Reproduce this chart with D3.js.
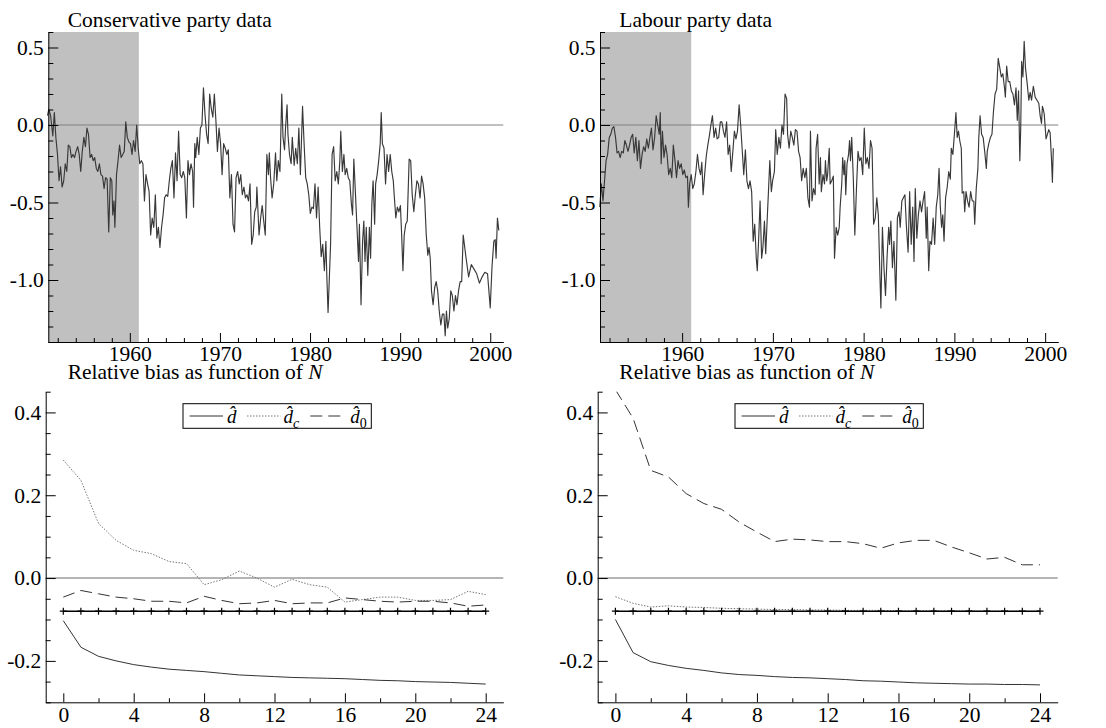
<!DOCTYPE html>
<html>
<head>
<meta charset="utf-8">
<script src="https://cdn.jsdelivr.net/npm/d3@7"></script>
<style>
  body { margin: 0; background: #fff; }
  svg { display: block; }
  svg text { font-family: "Liberation Serif", "DejaVu Serif", "Noto Serif", Tinos, serif; }
</style>
</head>
<body>
<svg id="chart" width="1106" height="728"></svg>
<script>
// ---- data ----
const conservative = [
  [1950.86,0.06],[1951.00,0.10],[1951.21,0.06],[1951.45,-0.07],[1951.62,0.08],[1951.79,-0.08],[1951.97,-0.19],[1952.14,-0.36],[1952.31,-0.27],[1952.48,-0.40],[1952.66,-0.36],[1952.83,-0.25],[1953.00,-0.30],[1953.17,-0.13],[1953.34,-0.14],[1953.52,-0.21],[1953.69,-0.19],[1953.86,-0.21],[1954.03,-0.17],[1954.21,-0.14],[1954.38,-0.19],[1954.55,-0.30],[1954.72,-0.17],[1954.90,-0.08],[1955.07,-0.14],[1955.24,-0.02],[1955.41,-0.06],[1955.59,-0.21],[1955.76,-0.19],[1955.93,-0.23],[1956.10,-0.21],[1956.28,-0.28],[1956.45,-0.30],[1956.62,-0.25],[1956.79,-0.32],[1956.97,-0.33],[1957.14,-0.41],[1957.31,-0.34],[1957.48,-0.35],[1957.66,-0.69],[1957.83,-0.34],[1958.00,-0.36],[1958.10,-0.58],[1958.24,-0.49],[1958.34,-0.66],[1958.52,-0.32],[1958.69,-0.23],[1958.86,-0.13],[1959.03,-0.21],[1959.21,-0.19],[1959.38,-0.17],[1959.55,0.02],[1959.72,-0.08],[1959.90,-0.11],
  [1960.07,-0.12],[1960.24,-0.19],[1960.41,-0.10],[1960.59,-0.17],[1960.76,0.00],[1960.93,-0.15],[1961.10,-0.25],[1961.28,-0.23],[1961.45,-0.25],[1961.62,-0.49],[1961.79,-0.32],[1961.97,-0.38],[1962.14,-0.43],[1962.31,-0.71],[1962.48,-0.60],[1962.66,-0.66],[1962.83,-0.45],[1963.00,-0.73],[1963.17,-0.66],[1963.34,-0.79],[1963.52,-0.66],[1963.69,-0.58],[1963.86,-0.47],[1964.03,-0.45],[1964.21,-0.46],[1964.38,-0.36],[1964.55,-0.28],[1964.72,-0.23],[1964.90,-0.47],[1965.07,-0.18],[1965.24,-0.36],[1965.41,-0.04],[1965.59,-0.32],[1965.76,-0.34],[1965.93,-0.30],[1966.10,-0.34],[1966.28,-0.60],[1966.45,-0.23],[1966.62,-0.32],[1966.79,-0.25],[1966.97,-0.30],[1967.07,-0.53],[1967.21,-0.12],[1967.31,-0.21],[1967.48,-0.08],[1967.66,-0.19],[1967.83,-0.02],[1968.00,0.00],[1968.17,0.24],[1968.34,0.07],[1968.52,-0.06],[1968.69,-0.12],[1968.86,0.20],[1969.03,0.11],[1969.21,0.05],[1969.38,0.20],[1969.55,0.03],[1969.72,-0.17],[1969.90,-0.02],
  [1970.07,-0.12],[1970.24,-0.32],[1970.41,-0.12],[1970.59,-0.15],[1970.76,-0.19],[1970.93,-0.16],[1971.10,-0.47],[1971.28,-0.32],[1971.45,-0.64],[1971.62,-0.69],[1971.79,-0.34],[1971.97,-0.30],[1972.14,-0.38],[1972.31,-0.32],[1972.48,-0.45],[1972.66,-0.40],[1972.83,-0.47],[1973.00,-0.45],[1973.17,-0.49],[1973.34,-0.38],[1973.52,-0.77],[1973.69,-0.71],[1973.86,-0.56],[1974.03,-0.53],[1974.10,-0.40],[1974.34,-0.71],[1974.52,-0.60],[1974.69,-0.52],[1974.86,-0.62],[1975.03,-0.71],[1975.21,-0.19],[1975.38,-0.32],[1975.48,-0.18],[1975.62,-0.34],[1975.79,-0.47],[1975.97,-0.38],[1976.17,-0.18],[1976.31,-0.36],[1976.48,-0.23],[1976.66,-0.30],[1976.86,0.20],[1977.00,-0.08],[1977.17,-0.16],[1977.28,-0.02],[1977.45,0.13],[1977.55,-0.06],[1977.72,-0.19],[1977.90,-0.25],[1978.03,-0.08],[1978.24,-0.26],[1978.41,-0.15],[1978.59,-0.25],[1978.76,-0.02],[1978.93,-0.32],[1979.17,0.12],[1979.34,-0.12],[1979.52,-0.34],[1979.69,-0.38],[1979.86,-0.45],
  [1980.03,-0.57],[1980.21,-0.53],[1980.38,-0.54],[1980.55,-0.38],[1980.72,-0.60],[1980.90,-0.40],[1981.07,-0.66],[1981.24,-0.85],[1981.41,-0.77],[1981.59,-0.94],[1981.76,-0.75],[1981.86,-0.97],[1982.00,-1.21],[1982.14,-0.99],[1982.28,-0.77],[1982.45,-0.19],[1982.62,-0.14],[1982.79,-0.36],[1982.97,-0.30],[1983.14,-0.38],[1983.31,-0.23],[1983.41,-0.04],[1983.59,-0.30],[1983.76,-0.19],[1983.90,-0.32],[1984.07,-0.28],[1984.24,-0.34],[1984.41,-0.36],[1984.59,-0.51],[1984.72,-0.58],[1984.86,-0.22],[1985.03,-0.43],[1985.21,-0.66],[1985.38,-0.88],[1985.48,-0.64],[1985.66,-1.16],[1985.83,-0.75],[1985.97,-0.62],[1986.10,-0.88],[1986.24,-0.66],[1986.41,-0.97],[1986.59,-0.66],[1986.72,-0.86],[1986.86,-0.51],[1987.00,-0.36],[1987.17,-0.64],[1987.28,-0.38],[1987.45,-0.32],[1987.62,-0.23],[1987.79,-0.12],[1987.90,0.08],[1988.03,-0.12],[1988.21,-0.15],[1988.38,-0.38],[1988.55,-0.19],[1988.72,-0.30],[1988.90,-0.19],[1989.07,-0.30],[1989.24,-0.36],[1989.34,-0.45],[1989.52,-0.60],[1989.69,-0.53],[1989.86,-0.56],
  [1990.03,-0.52],[1990.17,-0.71],[1990.31,-0.94],[1990.45,-0.71],[1990.62,-0.64],[1990.79,-0.62],[1991.00,-0.22],[1991.17,-0.23],[1991.34,-0.45],[1991.52,-0.56],[1991.69,-0.45],[1991.86,-0.36],[1992.03,-0.38],[1992.21,-0.47],[1992.38,-0.33],[1992.55,-0.38],[1992.72,-0.47],[1992.90,-0.71],[1993.07,-0.84],[1993.21,-0.79],[1993.34,-0.86],[1993.48,-1.07],[1993.66,-1.16],[1993.83,-1.05],[1994.00,-1.01],[1994.17,-1.07],[1994.34,-1.20],[1994.52,-1.29],[1994.69,-1.22],[1994.86,-1.22],[1995.00,-1.36],[1995.14,-1.20],[1995.28,-1.31],[1995.45,-1.25],[1995.62,-1.07],[1995.79,-1.10],[1995.97,-1.20],[1996.14,-1.10],[1996.31,-1.16],[1996.48,-1.07],[1996.66,-1.01],[1996.83,-1.01],[1997.00,-0.71],[1997.30,-0.85],[1997.60,-0.98],[1997.90,-0.90],[1998.20,-0.93],[1998.50,-0.96],[1998.80,-1.02],[1999.10,-0.98],[1999.40,-0.95],[1999.70,-0.96],[2000.00,-1.18],[2000.20,-0.91],[2000.40,-0.75],[2000.55,-0.74],[2000.65,-0.86],[2000.80,-0.60],[2000.95,-0.68]
];

const labour = [
  [1950.93,-0.53],[1951.10,-0.38],[1951.28,-0.49],[1951.45,-0.36],[1951.62,-0.23],[1951.79,-0.19],[1951.97,-0.08],[1952.14,-0.06],[1952.31,-0.02],[1952.48,-0.01],[1952.66,-0.08],[1952.83,-0.18],[1953.00,-0.17],[1953.17,-0.21],[1953.34,-0.17],[1953.52,-0.18],[1953.69,-0.10],[1953.86,-0.13],[1954.03,-0.17],[1954.21,-0.13],[1954.38,-0.08],[1954.55,-0.06],[1954.72,-0.18],[1954.90,-0.08],[1955.07,-0.23],[1955.24,-0.10],[1955.41,-0.28],[1955.59,-0.19],[1955.76,-0.14],[1955.93,-0.17],[1956.10,-0.09],[1956.28,-0.15],[1956.45,-0.08],[1956.62,-0.02],[1956.79,-0.16],[1956.97,-0.08],[1957.14,0.06],[1957.31,0.00],[1957.48,-0.06],[1957.59,0.08],[1957.69,-0.25],[1957.83,-0.04],[1958.00,-0.21],[1958.17,-0.13],[1958.34,-0.19],[1958.52,-0.32],[1958.69,-0.28],[1958.86,-0.34],[1959.03,-0.13],[1959.21,-0.23],[1959.38,-0.34],[1959.55,-0.23],[1959.72,-0.28],[1959.90,-0.25],
  [1960.07,-0.32],[1960.24,-0.29],[1960.41,-0.34],[1960.59,-0.33],[1960.69,-0.53],[1960.83,-0.38],[1961.00,-0.32],[1961.17,-0.41],[1961.34,-0.38],[1961.52,-0.30],[1961.69,-0.19],[1961.86,-0.28],[1962.03,-0.32],[1962.17,-0.24],[1962.31,-0.45],[1962.48,-0.32],[1962.66,-0.20],[1962.83,-0.13],[1963.00,-0.07],[1963.17,0.00],[1963.34,0.06],[1963.52,-0.08],[1963.69,-0.02],[1963.86,-0.09],[1964.03,-0.08],[1964.21,0.02],[1964.38,0.02],[1964.55,-0.04],[1964.72,-0.08],[1964.90,0.02],[1965.07,-0.19],[1965.24,-0.13],[1965.41,-0.30],[1965.59,-0.17],[1965.76,-0.04],[1965.93,-0.09],[1966.10,-0.04],[1966.28,0.13],[1966.45,0.00],[1966.62,-0.16],[1966.79,-0.32],[1966.97,-0.16],[1967.14,-0.36],[1967.31,-0.41],[1967.48,-0.36],[1967.66,-0.43],[1967.83,-0.75],[1968.00,-0.64],[1968.17,-0.86],[1968.28,-0.94],[1968.41,-0.77],[1968.59,-0.49],[1968.76,-0.86],[1968.90,-0.79],[1969.07,-0.62],[1969.21,-0.83],[1969.38,-0.60],[1969.55,-0.38],[1969.66,-0.23],[1969.83,-0.43],[1969.97,-0.36],
  [1970.17,-0.30],[1970.31,-0.03],[1970.48,-0.19],[1970.66,-0.08],[1970.83,-0.15],[1971.00,0.00],[1971.17,-0.06],[1971.34,0.20],[1971.52,0.17],[1971.62,-0.06],[1971.79,-0.15],[1971.97,-0.04],[1972.14,-0.08],[1972.31,-0.13],[1972.48,-0.03],[1972.66,-0.04],[1972.83,-0.17],[1973.00,-0.21],[1973.17,-0.36],[1973.34,-0.28],[1973.52,-0.34],[1973.69,-0.28],[1973.86,-0.47],[1974.03,-0.53],[1974.14,-0.04],[1974.31,-0.49],[1974.48,-0.41],[1974.66,-0.45],[1974.76,-0.15],[1974.93,-0.06],[1975.10,-0.38],[1975.24,-0.21],[1975.34,-0.43],[1975.52,-0.32],[1975.69,-0.38],[1975.79,-0.23],[1975.93,-0.36],[1976.03,-0.32],[1976.21,-0.15],[1976.31,-0.38],[1976.48,-0.36],[1976.66,-0.33],[1976.79,-0.86],[1976.97,-0.66],[1977.14,-0.71],[1977.31,-0.66],[1977.41,-0.53],[1977.59,-0.38],[1977.69,-0.21],[1977.83,-0.32],[1977.93,-0.23],[1978.03,-0.45],[1978.17,-0.25],[1978.34,-0.19],[1978.45,-0.10],[1978.55,-0.23],[1978.69,-0.08],[1978.86,-0.34],[1979.03,-0.71],[1979.21,-0.41],[1979.38,-0.17],[1979.55,-0.23],[1979.72,-0.21],[1979.90,-0.32],
  [1980.07,-0.02],[1980.24,-0.25],[1980.41,-0.21],[1980.59,-0.28],[1980.76,-0.10],[1980.93,-0.15],[1981.10,-0.64],[1981.28,-0.60],[1981.45,-0.47],[1981.62,-0.58],[1981.76,-0.90],[1981.90,-1.18],[1982.07,-0.66],[1982.24,-0.92],[1982.41,-1.10],[1982.59,-0.84],[1982.76,-0.66],[1982.86,-0.77],[1983.00,-0.62],[1983.17,-0.92],[1983.34,-0.75],[1983.55,-1.13],[1983.72,-0.60],[1983.90,-0.56],[1984.03,-0.66],[1984.21,-0.49],[1984.38,-0.47],[1984.55,-0.45],[1984.72,-0.66],[1984.90,-0.82],[1985.07,-0.43],[1985.24,-0.77],[1985.41,-0.53],[1985.55,-0.88],[1985.69,-0.41],[1985.86,-0.73],[1986.03,-0.58],[1986.21,-0.49],[1986.38,-0.56],[1986.55,-0.49],[1986.72,-0.43],[1986.90,-0.73],[1987.00,-0.53],[1987.17,-0.94],[1987.31,-0.75],[1987.48,-0.77],[1987.66,-0.60],[1987.83,-0.77],[1988.00,-0.53],[1988.17,-0.45],[1988.31,-0.28],[1988.45,-0.53],[1988.59,-0.66],[1988.72,-0.58],[1988.86,-0.75],[1989.03,-0.47],[1989.21,-0.40],[1989.38,-0.30],[1989.55,-0.35],[1989.66,-0.15],[1989.83,-0.19],
  [1990.00,-0.06],[1990.17,0.08],[1990.31,-0.08],[1990.45,-0.04],[1990.59,-0.10],[1990.76,-0.15],[1990.86,-0.44],[1991.03,-0.43],[1991.14,-0.56],[1991.28,-0.43],[1991.45,-0.49],[1991.62,-0.53],[1991.79,-0.43],[1991.97,-0.49],[1992.14,-0.49],[1992.24,-0.64],[1992.41,-0.41],[1992.59,-0.28],[1992.69,-0.08],[1992.83,0.06],[1993.00,-0.06],[1993.17,-0.08],[1993.34,-0.17],[1993.52,-0.28],[1993.62,-0.17],[1993.79,-0.12],[1993.97,-0.08],[1994.14,-0.06],[1994.31,0.09],[1994.48,0.20],[1994.66,0.23],[1994.83,0.43],[1995.00,0.37],[1995.17,0.31],[1995.34,0.33],[1995.52,0.24],[1995.62,0.18],[1995.76,0.38],[1995.93,0.28],[1996.10,0.28],[1996.28,0.22],[1996.45,0.20],[1996.62,0.13],[1996.79,0.24],[1996.93,0.03],[1997.07,0.22],[1997.21,-0.23],[1997.31,-0.02],[1997.41,0.41],[1997.55,0.31],[1997.69,0.54],[1997.83,0.37],[1998.00,0.28],[1998.20,0.16],[1998.35,0.21],[1998.50,0.16],[1998.70,0.25],[1998.90,0.18],[1999.10,0.16],[1999.30,0.14],[1999.45,0.06],[1999.60,0.01],[1999.70,0.12],[1999.80,0.10],[1999.90,0.07],[2000.10,-0.09],[2000.20,-0.07],[2000.40,-0.03],[2000.55,-0.05],[2000.70,-0.22],[2000.80,-0.37],[2000.90,-0.15]
];

const shadeEnd = 1961;
const yearDomain = [1950.95, 2001.45];
const yearTicks = [1960, 1970, 1980, 1990, 2000];
const levelDomain = [-1.4, 0.6];
const levelTicks = [-1.0, -0.5, 0.0, 0.5];

const horizon = [0,1,2,3,4,5,6,7,8,9,10,11,12,13,14,15,16,17,18,19,20,21,22,23,24];
const horizonTicks = [0, 4, 8, 12, 16, 20, 24];
const biasDomain = [-0.3, 0.45];
const biasTicks = [-0.2, 0.0, 0.2, 0.4];
const trueBias = -0.08;

const conBiasD  = [-0.103,-0.167,-0.189,-0.200,-0.209,-0.215,-0.220,-0.223,-0.226,-0.230,-0.234,-0.236,-0.238,-0.240,-0.241,-0.242,-0.243,-0.245,-0.247,-0.248,-0.250,-0.251,-0.252,-0.254,-0.256];
const conBiasDc = [0.285,0.236,0.132,0.091,0.067,0.059,0.040,0.035,-0.016,-0.004,0.017,0.000,-0.022,-0.003,-0.016,-0.022,-0.058,-0.052,-0.046,-0.046,-0.054,-0.054,-0.052,-0.032,-0.040];
const conBiasD0 = [-0.046,-0.030,-0.038,-0.046,-0.050,-0.056,-0.056,-0.060,-0.044,-0.054,-0.062,-0.060,-0.054,-0.062,-0.060,-0.060,-0.048,-0.052,-0.056,-0.058,-0.056,-0.056,-0.060,-0.068,-0.065];

const labBiasD  = [-0.100,-0.180,-0.202,-0.211,-0.218,-0.223,-0.229,-0.233,-0.235,-0.238,-0.240,-0.241,-0.243,-0.245,-0.248,-0.249,-0.251,-0.253,-0.254,-0.255,-0.256,-0.256,-0.257,-0.257,-0.258];
const labBiasDc = [-0.045,-0.061,-0.070,-0.067,-0.070,-0.071,-0.073,-0.074,-0.075,-0.076,-0.076,-0.077,-0.077,-0.078,-0.078,-0.078,-0.079,-0.079,-0.079,-0.079,-0.079,-0.080,-0.080,-0.080,-0.080];
const labBiasD0 = [0.455,0.386,0.260,0.244,0.204,0.180,0.166,0.135,0.111,0.088,0.094,0.092,0.088,0.088,0.083,0.072,0.085,0.091,0.091,0.075,0.061,0.046,0.050,0.032,0.032];

// ---- drawing ----
const svg = d3.select("#chart");
const serif = "'Liberation Serif', 'DejaVu Serif', 'Noto Serif', Tinos, serif";
const fontSize = 21.5;

const panels = {
  topLeft:     { x0: 48.3,  x1: 503.3,  y0: 32,    y1: 342,   titleX: 67.7 },
  topRight:    { x0: 600,   x1: 1058.3, y0: 32,    y1: 342,   titleX: 619.3 },
  bottomLeft:  { x0: 45.7,  x1: 503.3,  y0: 391.7, y1: 702.3, titleX: 67.7 },
  bottomRight: { x0: 597.7, x1: 1057.7, y0: 391.7, y1: 702.3, titleX: 619.3 }
};

function drawAxes(g, x, y, p, xMajor, xMinor, yMajor, yMinor) {
  // x axis
  g.append("g")
    .attr("transform", `translate(0,${p.y1})`)
    .call(d3.axisBottom(x).tickValues(xMinor).tickSize(-4).tickSizeOuter(0).tickFormat(""))
    .call(a => a.select(".domain").remove());
  g.append("g")
    .attr("transform", `translate(0,${p.y1})`)
    .call(d3.axisBottom(x).tickValues(xMajor).tickSize(-9).tickSizeOuter(0).tickPadding(4).tickFormat(d => d));
  // y axis
  g.append("g")
    .attr("transform", `translate(${p.x0},0)`)
    .call(d3.axisLeft(y).tickValues(yMinor).tickSize(-5).tickSizeOuter(0).tickFormat(""))
    .call(a => a.select(".domain").remove());
  g.append("g")
    .attr("transform", `translate(${p.x0},0)`)
    .call(d3.axisLeft(y).tickValues(yMajor).tickSize(-10).tickSizeOuter(0).tickPadding(4.5).tickFormat(d => d.toFixed(1)));

  g.selectAll("g").attr("font-family", serif);
  g.selectAll(".tick text")
    .attr("font-family", serif)
    .style("font-size", fontSize + "px")
    .attr("fill", "#000");
  g.selectAll(".tick line, .domain").attr("stroke", "#000");
}

function addTitle(g, p, y, parts) {
  const t = g.append("text")
    .attr("x", p.titleX)
    .attr("y", y)
    .attr("font-family", serif)
    .style("font-size", fontSize + "px")
    .attr("fill", "#000");
  parts.forEach(([s, italic]) => {
    t.append("tspan").style("font-style", italic ? "italic" : "normal").text(s);
  });
}

function drawSeriesPanel(key, data, title) {
  const p = panels[key];
  const g = svg.append("g");
  const x = d3.scaleLinear().domain(yearDomain).range([p.x0, p.x1]);
  const y = d3.scaleLinear().domain(levelDomain).range([p.y1, p.y0]);

  g.append("rect")
    .attr("x", x(yearDomain[0]))
    .attr("y", p.y0)
    .attr("width", x(shadeEnd) - x(yearDomain[0]))
    .attr("height", p.y1 - p.y0)
    .attr("fill", "#c0c0c0");

  g.append("line")
    .attr("x1", p.x0).attr("x2", p.x1)
    .attr("y1", y(0)).attr("y2", y(0))
    .attr("stroke", "#808080").attr("stroke-width", 1);

  g.append("path")
    .datum(data)
    .attr("fill", "none")
    .attr("stroke", "#383838")
    .attr("stroke-width", 1.15)
    .attr("stroke-linejoin", "round")
    .attr("d", d3.line().x(d => x(d[0])).y(d => y(d[1])));

  const minorYears = d3.range(1952, 2001, 2).filter(v => v % 10 !== 0);
  const minorLevels = d3.range(-14, 7).map(v => v / 10).filter(v => Math.abs(v * 2 - Math.round(v * 2)) > 1e-6);
  drawAxes(g, x, y, p, yearTicks, minorYears, levelTicks, minorLevels);

  addTitle(g, p, 27, [[title, false]]);
}

function drawBiasPanel(key, dHat, dC, d0) {
  const p = panels[key];
  const g = svg.append("g");
  const x = d3.scaleLinear().domain([-1, 25]).range([p.x0, p.x1]);
  const y = d3.scaleLinear().domain(biasDomain).range([p.y1, p.y0]);

  const clipId = "clip-" + key;
  g.append("clipPath").attr("id", clipId)
    .append("rect").attr("x", p.x0).attr("y", p.y0).attr("width", p.x1 - p.x0).attr("height", p.y1 - p.y0);

  g.append("line")
    .attr("x1", p.x0).attr("x2", p.x1)
    .attr("y1", y(0)).attr("y2", y(0))
    .attr("stroke", "#b4b4b4").attr("stroke-width", 2);

  const line = d3.line().x((d, i) => x(horizon[i])).y(d => y(d));
  const styles = [
    { data: dHat, dash: null,      color: "#333" },
    { data: dC,   dash: "1.5,1.5", color: "#777" },
    { data: d0,   dash: "12,6",    color: "#333" }
  ];
  styles.forEach(s => {
    g.append("path")
      .datum(s.data)
      .attr("clip-path", `url(#${clipId})`)
      .attr("fill", "none")
      .attr("stroke", s.color)
      .attr("stroke-width", 1)
      .attr("stroke-dasharray", s.dash)
      .attr("d", line);
  });

  // reference line with + markers
  g.append("line")
    .attr("x1", x(horizon[0])).attr("x2", x(horizon[horizon.length - 1]))
    .attr("y1", y(trueBias)).attr("y2", y(trueBias))
    .attr("stroke", "#000").attr("stroke-width", 1.5);
  g.selectAll(".plus")
    .data(horizon)
    .enter()
    .append("path")
    .attr("d", n => `M${x(n) - 3.5},${y(trueBias)}h7M${x(n)},${y(trueBias) - 3.5}v7`)
    .attr("stroke", "#000")
    .attr("stroke-width", 1.2);

  const minorN = [2, 6, 10, 14, 18, 22];
  const minorB = d3.range(-6, 10).map(v => v * 0.05).filter(v => Math.abs(v * 5 - Math.round(v * 5)) > 1e-6);
  drawAxes(g, x, y, p, horizonTicks, minorN, biasTicks, minorB);

  addTitle(g, p, 378.5, [["Relative bias as function of ", false], ["N", true]]);

  // legend
  const lx = p.x0 + 137.3, ly = p.y0 + 12;
  const lg = g.append("g").attr("transform", `translate(${lx},${ly})`);
  lg.append("rect")
    .attr("width", 188.3).attr("height", 24.6)
    .attr("fill", "#fff").attr("stroke", "#000").attr("stroke-width", 1);
  const items = [
    { x1: 6.6,   x2: 40,  dash: null,      color: "#333", tx: 44,    sub: "",  subItalic: false },
    { x1: 64,    x2: 97.3, dash: "1.5,1.5", color: "#777", tx: 100.6, sub: "c", subItalic: true },
    { x1: 127.3, x2: 159, dash: "12,6",    color: "#333", tx: 167.3, sub: "0", subItalic: false }
  ];
  items.forEach(it => {
    lg.append("line")
      .attr("x1", it.x1).attr("x2", it.x2).attr("y1", 12.3).attr("y2", 12.3)
      .attr("stroke", it.color).attr("stroke-width", 1)
      .attr("stroke-dasharray", it.dash);
    const t = lg.append("text")
      .attr("x", it.tx).attr("y", 19.5)
      .attr("font-family", serif)
      .style("font-size", "19px")
      .style("font-style", "italic")
      .attr("fill", "#000")
      .text("d\u0302");
    if (it.sub) {
      t.append("tspan")
        .attr("dy", 5)
        .style("font-size", "14px")
        .style("font-style", it.subItalic ? "italic" : "normal")
        .text(it.sub);
    }
  });
}

drawSeriesPanel("topLeft", conservative, "Conservative party data");
drawSeriesPanel("topRight", labour, "Labour party data");
drawBiasPanel("bottomLeft", conBiasD, conBiasDc, conBiasD0);
drawBiasPanel("bottomRight", labBiasD, labBiasDc, labBiasD0);
</script>
</body>
</html>
